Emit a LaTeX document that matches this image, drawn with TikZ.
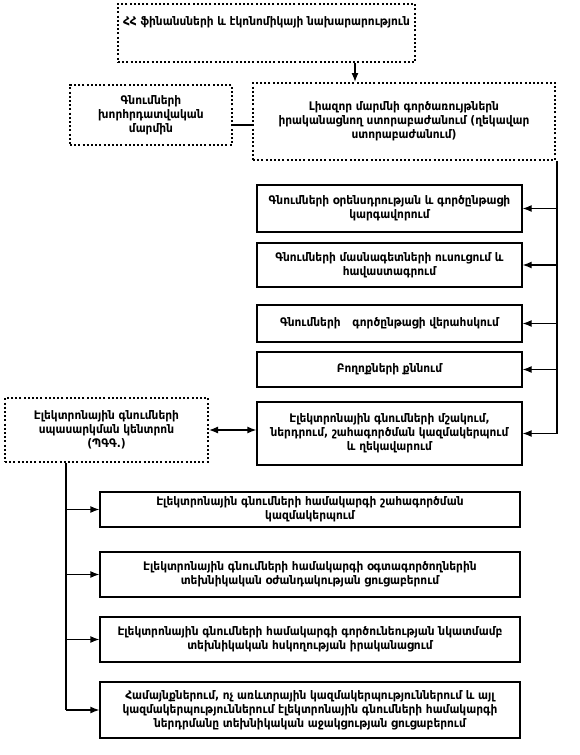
\documentclass[tikz,border=0pt]{standalone}
\usepackage{fontspec}
\setmainfont{DejaVu Sans Condensed}
\usetikzlibrary{arrows.meta}
\begin{document}
\begin{tikzpicture}[x=1pt,y=-1pt,
  txt/.style={font=\fontsize{11.8}{14.2}\selectfont\bfseries, align=center},
  solidbox/.style={txt, draw, line width=1.3pt, inner sep=0pt},
  dotbox/.style={txt, draw, line width=2pt, dash pattern=on 2pt off 2.2pt, inner sep=0pt},
  conn/.style={line width=1.3pt},
  arr/.style={conn, -{Latex[length=9pt,width=7pt]}},
  darr/.style={conn, {Latex[length=9pt,width=7pt]}-{Latex[length=9pt,width=7pt]}},
]
\useasboundingbox (0,0) rectangle (579,755);
\node[dotbox, anchor=base, minimum width=297pt, text height=21pt, text depth=37pt] (A) at (266.5,25) {ՀՀ ֆինանսների և էկոնոմիկայի նախարարություն};
\node[dotbox, minimum width=162pt, minimum height=60pt] (B) at (151,115) {Գնումների\\խորհրդատվական\\մարմին};
\node[dotbox, minimum width=302pt, minimum height=77pt] (C) at (404,121.5) {Լիազոր մարմնի գործառույթներն\\իրականացնող ստորաբաժանում (ղեկավար\\ստորաբաժանում)};
\node[solidbox, minimum width=265pt, minimum height=47pt] (D4) at (389.5,208.5) {Գնումների օրենսդրության և գործընթացի\\կարգավորում};
\node[solidbox, minimum width=265pt, minimum height=44pt] (D5) at (389.5,265) {Գնումների մասնագետների ուսուցում և\\հավաստագրում};
\node[solidbox, minimum width=265pt, minimum height=37pt] (D6) at (389.5,323.5) {Գնումների\quad գործընթացի վերահսկում};
\node[solidbox, minimum width=265pt, minimum height=35pt] (D7) at (389.5,369.5) {Բողոքների քննում};
\node[solidbox, minimum width=265pt, minimum height=63pt] (D8) at (389.5,433.5) {Էլեկտրոնային գնումների մշակում,\\ներդրում, շահագործման կազմակերպում\\և ղեկավարում};
\node[dotbox, minimum width=203pt, minimum height=64pt] (E9) at (106.5,430) {Էլեկտրոնային գնումների\\սպասարկման կենտրոն\\(ՊԳԳ.)};
\node[solidbox, minimum width=420pt, minimum height=35pt] (F10) at (310,509.5) {Էլեկտրոնային գնումների համակարգի շահագործման\\կազմակերպում};
\node[solidbox, minimum width=420pt, minimum height=45pt] (F11) at (310,574.5) {Էլեկտրոնային գնումների համակարգի օգտագործողներին\\տեխնիկական օժանդակության ցուցաբերում};
\node[solidbox, minimum width=420pt, minimum height=45pt] (F12) at (310,639.5) {Էլեկտրոնային գնումների համակարգի գործունեության նկատմամբ\\տեխնիկական հսկողության իրականացում};
\node[solidbox, minimum width=420pt, minimum height=56pt] (F13) at (310,710) {Համայնքներում, ոչ առևտրային կազմակերպություններում և այլ\\կազմակերպություններում էլեկտրոնային գնումների համակարգի\\ներդրմանը տեխնիկական աջակցության ցուցաբերում};
\coordinate (ax) at (355,0);
\coordinate (by) at (0,125);
\coordinate (rx) at (557,0);
\coordinate (lx) at (66,0);
\coordinate (dy) at (0,430);
\draw[arr] (A.south -| ax) -- (C.north -| ax);
\draw[conn] (B.east |- by) -- (C.west |- by);
\draw[conn] (C.south -| rx) -- (rx |- D8.east);
\foreach \n in {D4,D5,D6,D7,D8} \draw[arr] (rx |- \n.east) -- (\n.east);
\draw[darr] (E9.east |- dy) -- (D8.west |- dy);
\draw[conn] (E9.south -| lx) -- (lx |- F13.west);
\foreach \n in {F10,F11,F12,F13} \draw[arr] (lx |- \n.west) -- (\n.west);
\end{tikzpicture}
\end{document}
